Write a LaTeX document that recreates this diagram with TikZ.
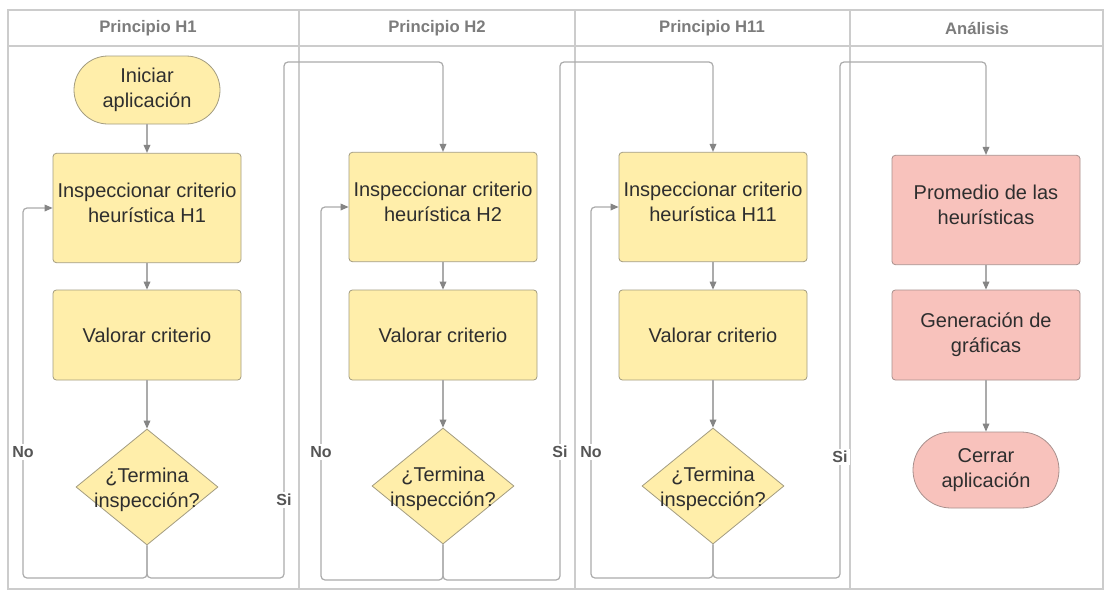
\documentclass[tikz,border=0pt]{standalone}
\usepackage{fontspec}
\setmainfont{Liberation Sans}
\usetikzlibrary{arrows.meta,shapes.geometric}
\definecolor{yfill}{HTML}{FFEEAA}
\definecolor{ydraw}{HTML}{A39C80}
\definecolor{pfill}{HTML}{F8C2BC}
\definecolor{pdraw}{HTML}{A8908D}
\definecolor{frame}{HTML}{CCCCCC}
\definecolor{conncol}{HTML}{ABABAB}
\definecolor{tipcol}{HTML}{858585}
\definecolor{headcol}{HTML}{7C7C7C}
\definecolor{txtcol}{HTML}{2E2E2E}
\definecolor{lblcol}{HTML}{555555}
\tikzset{
  txt/.style={text=txtcol,font=\fontsize{15}{18.5}\selectfont,align=center},
  ybox/.style={txt,draw=ydraw,fill=yfill,line width=0.6pt,rounded corners=2.5pt,minimum width=141pt,inner sep=0pt},
  pbox/.style={txt,draw=pdraw,fill=pfill,line width=0.6pt,rounded corners=2.5pt,minimum width=141pt,inner sep=0pt},
  tall/.style={minimum height=82pt},
  short/.style={minimum height=67.5pt},
  term/.style={txt,draw=ydraw,fill=yfill,line width=0.6pt,minimum width=109.5pt,minimum height=51pt,rounded corners=25.5pt,inner sep=0pt},
  pterm/.style={txt,draw=pdraw,fill=pfill,line width=0.6pt,minimum width=109.5pt,minimum height=57pt,rounded corners=28.5pt,inner sep=0pt},
  dec/.style={diamond,draw=ydraw,fill=yfill,line width=0.6pt,minimum width=106.5pt,minimum height=87pt,inner sep=0pt},
  conn/.style={draw=conncol,line width=0.9pt,rounded corners=3pt},
  arr/.style={conn,-{Triangle[length=6pt,width=5pt,color=tipcol]}},
  lbl/.style={fill=white,text=lblcol,font=\bfseries\fontsize{12}{12}\selectfont,inner sep=1.5pt},
  head/.style={text=headcol,font=\bfseries\fontsize{12.5}{12.5}\selectfont},
  lane/.style={draw=frame,line width=0.8pt}
}
\begin{document}
\begin{tikzpicture}[x=0.75pt,y=-0.75pt]
\useasboundingbox[fill=white] (0,0) rectangle (1104,590);
% lanes
\draw[lane] (8,10) rectangle (1103,589);
\draw[lane] (8,46) -- (1103,46);
\draw[lane] (299,10) -- (299,589);
\draw[lane] (575,10) -- (575,589);
\draw[lane] (850,10) -- (850,589);
\node[head] (h1) at (148,28) {Principio H1};
\node[head] (h2) at (437,28) {Principio H2};
\node[head] (h3) at (712,28) {Principio H11};
\node[head] (h4) at (977,28) {Análisis};
% lane 1
\node[term] (start) at (147,90) {Iniciar\\aplicación};
\node[ybox,tall] (i1) at (147,208) {Inspeccionar criterio\\heurística H1\\[-11pt]};
\node[ybox,short] (v1) at (147,335) {Valorar criterio};
\node[dec] (d1) at (147,487) {};
\node[txt] (d1t) at (147,490) {¿Termina\\inspección?};
% lane 2
\node[ybox,tall] (i2) at (443,207) {Inspeccionar criterio\\heurística H2\\[-11pt]};
\node[ybox,short] (v2) at (443,335) {Valorar criterio};
\node[dec] (d2) at (443,486) {};
\node[txt] (d2t) at (443,489) {¿Termina\\inspección?};
% lane 3
\node[ybox,tall] (i3) at (713,207) {Inspeccionar criterio\\heurística H11\\[-11pt]};
\node[ybox,short] (v3) at (713,335) {Valorar criterio};
\node[dec] (d3) at (713,486) {};
\node[txt] (d3t) at (713,489) {¿Termina\\inspección?};
% lane 4
\node[pbox,tall] (p1) at (986,210) {Promedio de las\\heurísticas\\[-11pt]};
\node[pbox,short] (p2) at (986,335) {Generación de\\gráficas};
\node[pterm] (end) at (986,470) {Cerrar\\aplicación};
% coordinates
\coordinate (n1) at (23,578);
\coordinate (s1b) at (284,578);
\coordinate (s1t) at (284,62);
\coordinate (n2) at (321,580);
\coordinate (s2b) at (560,580);
\coordinate (s2t) at (560,62);
\coordinate (n3) at (591,578);
\coordinate (s3b) at (840,578);
\coordinate (s3t) at (840,62);
% connectors lane 1
\draw[arr] (start) -- (i1);
\draw[arr] (i1) -- (v1);
\draw[arr] (v1) -- (d1);
\draw[arr] (d1.south) |- (n1) |- (i1.west);
\draw[arr] (d1.south) |- (s1b) -- (s1t) -| (i2.north);
% lane 2
\draw[arr] (i2) -- (v2);
\draw[arr] (v2) -- (d2);
\draw[arr] (d2.south) |- (n2) |- (i2.west);
\draw[arr] (d2.south) |- (s2b) -- (s2t) -| (i3.north);
% lane 3
\draw[arr] (i3) -- (v3);
\draw[arr] (v3) -- (d3);
\draw[arr] (d3.south) |- (n3) |- (i3.west);
\draw[arr] (d3.south) |- (s3b) -- (s3t) -| (p1.north);
% lane 4
\draw[arr] (p1) -- (p2);
\draw[arr] (p2) -- (end);
% labels
\node[lbl] (l1) at (23,452) {No};
\node[lbl] (l2) at (284,500) {Si};
\node[lbl] (l3) at (321,452) {No};
\node[lbl] (l4) at (560,452) {Si};
\node[lbl] (l5) at (591,452) {No};
\node[lbl] (l6) at (840,457) {Si};
\end{tikzpicture}
\end{document}
